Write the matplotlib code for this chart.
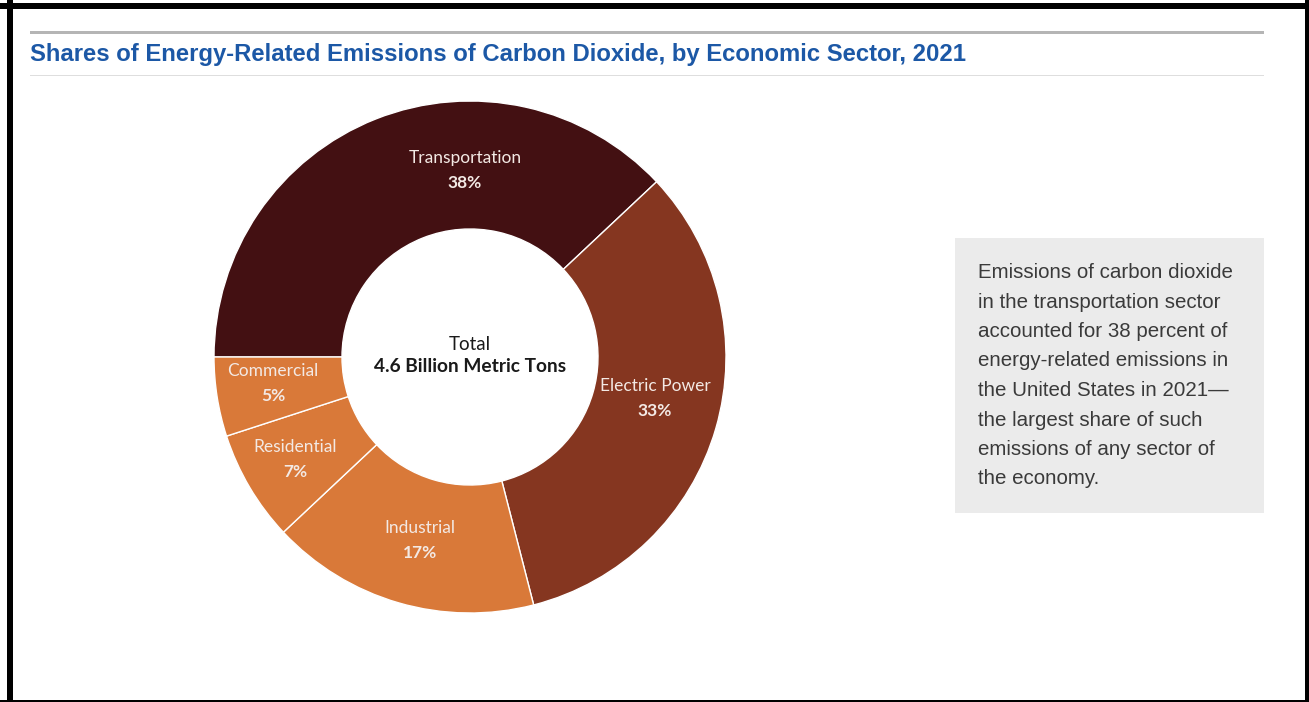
import matplotlib

matplotlib.use("Agg")
import matplotlib.pyplot as plt  # noqa: E402
from matplotlib.patches import Rectangle  # noqa: E402

W, H = 1309, 702

TITLE = "Shares of Energy-Related Emissions of Carbon Dioxide, by Economic Sector, 2021"
SECTORS = ["Transportation", "Electric Power", "Industrial", "Residential", "Commercial"]
SHARES = [38, 33, 17, 7, 5]
COLORS = ["#431012", "#853620", "#d97939", "#d97939", "#d97939"]
TOTAL_LABEL = "Total"
TOTAL_VALUE = "4.6 Billion Metric Tons"
NOTE = (
    "Emissions of carbon dioxide\n"
    "in the transportation sector\n"
    "accounted for 38 percent of\n"
    "energy-related emissions in\n"
    "the United States in 2021\u2014\n"
    "the largest share of such\n"
    "emissions of any sector of\n"
    "the economy."
)

# label anchor points (pixel coords, y from top)
LABEL_POS = [(465, 158), (655, 386), (420, 528), (295, 447), (273, 371)]

LABEL_FONT = ["Lato", "DejaVu Sans"]
BODY_FONT = ["Liberation Sans", "DejaVu Sans"]

fig = plt.figure(figsize=(W / 100, H / 100), dpi=100)
ax = fig.add_axes([0, 0, 1, 1])


def py(y):
    return H - y


cx, cy, r = 470, py(357), 256
ax.pie(
    SHARES,
    colors=COLORS,
    startangle=180,
    counterclock=False,
    center=(cx, cy),
    radius=r,
    wedgeprops={"width": r * 0.5, "edgecolor": "white", "linewidth": 1.0},
)
ax.set_xlim(0, W)
ax.set_ylim(0, H)
ax.set_aspect("equal")
ax.axis("off")

for name, share, (x, y) in zip(SECTORS, SHARES, LABEL_POS):
    ax.text(x, py(y), name, ha="center", va="center", color="#f3e9e4",
            fontsize=12.5, family=LABEL_FONT)
    ax.text(x, py(y + 25), f"{share}%", ha="center", va="center", color="#f3e9e4",
            fontsize=12.5, fontweight="bold", family=LABEL_FONT)

ax.text(cx, py(344), TOTAL_LABEL, ha="center", va="center", color="#1a1a1a",
        fontsize=13.5, family=LABEL_FONT)
ax.text(cx, py(367), TOTAL_VALUE, ha="center", va="center", color="#1a1a1a",
        fontsize=13.8, fontweight="bold", family=LABEL_FONT)

# title and rules
ax.add_patch(Rectangle((30, py(34)), 1234, 3, color="#b5b5b5", lw=0))
ax.add_patch(Rectangle((30, py(76)), 1234, 1.5, color="#dedede", lw=0))
ax.text(30, py(54), TITLE, ha="left", va="center", color="#1c58a6",
        fontsize=17.2, fontweight="bold", family=BODY_FONT)

# side note box
ax.add_patch(Rectangle((955, py(513)), 309, 275, color="#ebebeb", lw=0))
ax.text(978, py(263), NOTE, ha="left", va="top", color="#3a3a3a",
        fontsize=14.8, family=BODY_FONT, linespacing=1.7)

# black frame
for rect in [(7, 0, 6, H), (0, H - 9, W, 6), (1305, 0, 4, H), (0, 0, W, 2)]:
    ax.add_patch(Rectangle(rect[:2], rect[2], rect[3], color="black", lw=0))

fig.savefig("out.png", dpi=100)
